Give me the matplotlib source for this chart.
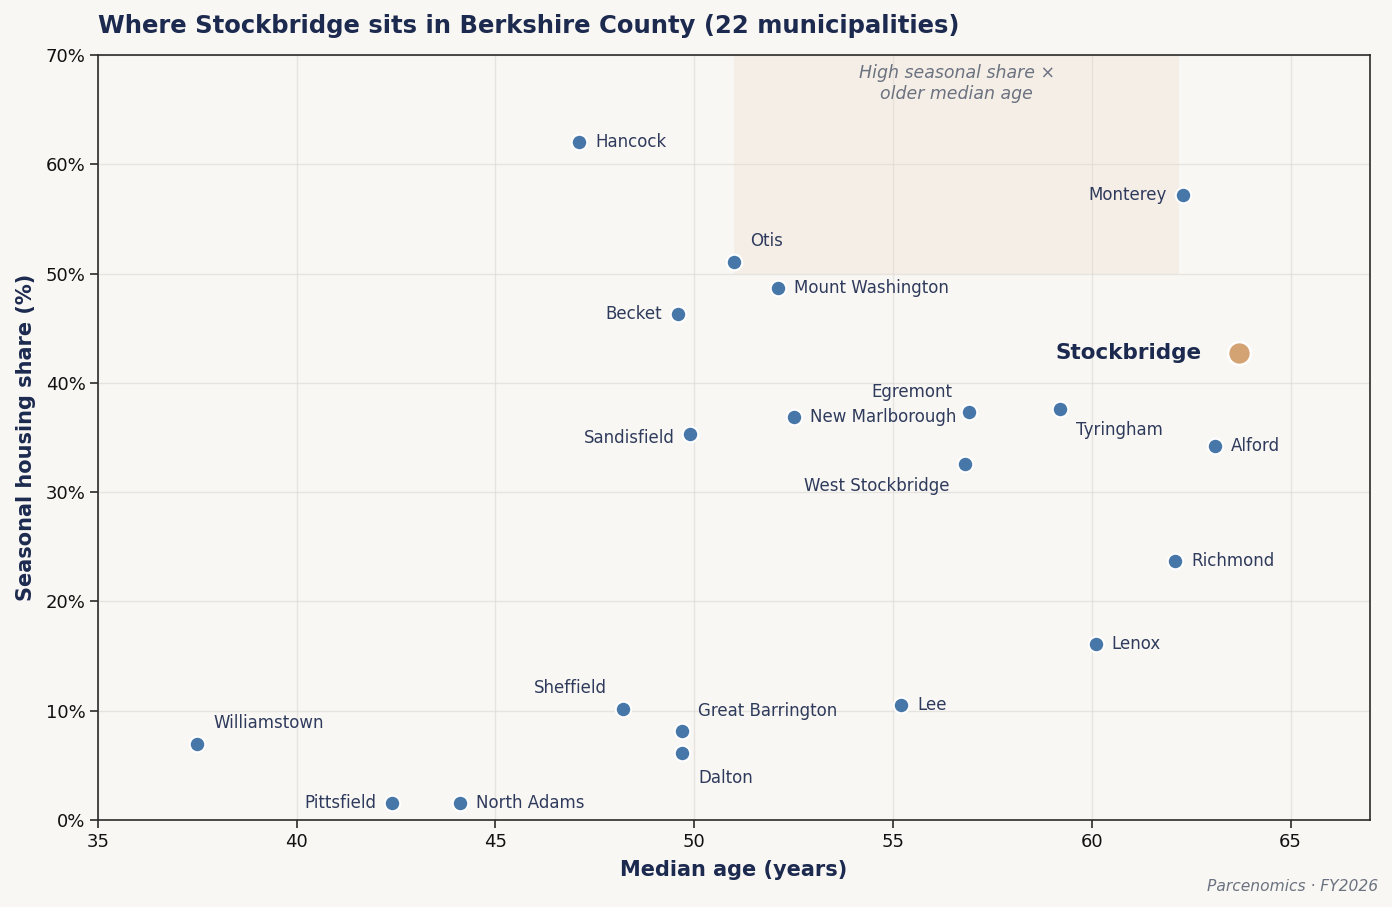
import matplotlib.pyplot as plt
from matplotlib.ticker import FuncFormatter

# municipalities (Stockbridge handled separately)
towns = ["Hancock", "Monterey", "Otis", "Mount Washington", "Becket", "Egremont",
         "Tyringham", "New Marlborough", "Sandisfield", "Alford", "West Stockbridge",
         "Richmond", "Lenox", "Lee", "Sheffield", "Great Barrington", "Dalton",
         "Williamstown", "Pittsfield", "North Adams"]
median_age = [47.1, 62.3, 51.0, 52.1, 49.6, 56.9,
              59.2, 52.5, 49.9, 63.1, 56.8,
              62.1, 60.1, 55.2, 48.2, 49.7, 49.7,
              37.5, 42.4, 44.1]
seasonal_pct = [62.0, 57.2, 51.1, 48.7, 46.3, 37.3,
                37.6, 36.9, 35.3, 34.2, 32.6,
                23.7, 16.1, 10.5, 10.2, 8.1, 6.1,
                7.0, 1.6, 1.6]

stock_age = 63.7
stock_pct = 42.7

# shaded "high seasonal x older" box
box_x = (51.0, 62.2)
box_y = (50.0, 70.0)

# label placement: (dx, dy in points, ha)
R = (11.5, 0, "left")
L = (-11.5, 0, "right")
label_pos = {
    "Hancock": R, "Monterey": L, "Otis": (11.5, 15, "left"),
    "Mount Washington": R, "Becket": L, "Egremont": (-11.5, 14.5, "right"),
    "Tyringham": (11.5, -15, "left"), "New Marlborough": R,
    "Sandisfield": (-11.5, -3, "right"), "Alford": R,
    "West Stockbridge": (-11, -16, "right"), "Richmond": R, "Lenox": R, "Lee": R,
    "Sheffield": (-11.5, 14.5, "right"), "Great Barrington": (11.5, 15, "left"),
    "Dalton": (11.5, -18, "left"), "Williamstown": (11.5, 15, "left"),
    "Pittsfield": L, "North Adams": R,
}

BG = "#f9f7f4"
NAVY = "#1c2a4f"
LABEL = "#2f3b5c"
BLUE = "#4677a8"
TAN = "#d4a373"

fig = plt.figure(figsize=(13.92, 9.07), dpi=100, facecolor=BG)
ax = fig.add_axes([0.0704, 0.0959, 0.9138, 0.8435])
ax.set_facecolor(BG)

ax.axvspan(box_x[0], box_x[1], ymin=box_y[0] / 70, ymax=box_y[1] / 70,
           color="#eee0d0", alpha=0.35, lw=0, zorder=0)
ax.text(sum(box_x) / 2, 69.2, "High seasonal share ×\nolder median age", ha="center", va="top",
        fontsize=12.5, style="italic", color="#6b7280", zorder=1)

ax.scatter(median_age, seasonal_pct, s=125, color=BLUE, edgecolor="white", linewidth=1.5, zorder=3)
ax.scatter([stock_age], [stock_pct], s=270, color=TAN, edgecolor="white", linewidth=1.8, zorder=4)

for name, xv, yv in zip(towns, median_age, seasonal_pct):
    dx, dy, ha = label_pos[name]
    ax.annotate(name, (xv, yv), xytext=(dx, dy), textcoords="offset points",
                ha=ha, va="center", fontsize=12, color=LABEL, zorder=5)

ax.annotate("Stockbridge", (stock_age, stock_pct), xytext=(-27, 0), textcoords="offset points",
            ha="right", va="center", fontsize=15.5, fontweight="bold", color=NAVY, zorder=5)

ax.set_xlim(35, 67)
ax.set_ylim(0, 70)
ax.set_xticks(range(35, 66, 5))
ax.set_yticks(range(0, 71, 10))
ax.yaxis.set_major_formatter(FuncFormatter(lambda v, p: f"{v:.0f}%"))
ax.tick_params(labelsize=13, colors="#111111", length=5.5, width=1.2)
ax.tick_params(axis="both", labelcolor="#111111", color="#2b2b2b")
ax.grid(True, color="#dcd8d2", alpha=0.6, lw=1)
ax.set_axisbelow(True)
for sp in ax.spines.values():
    sp.set_color("#2b2b2b")
    sp.set_linewidth(1.2)

ax.set_xlabel("Median age (years)", fontsize=15, fontweight="bold", color=NAVY, labelpad=7)
ax.set_ylabel("Seasonal housing share (%)", fontsize=15, fontweight="bold", color=NAVY, labelpad=7)
ax.set_title("Where Stockbridge sits in Berkshire County (22 municipalities)", loc="left",
             fontsize=17.5, fontweight="bold", color=NAVY, pad=16)

fig.text(0.99, 0.023, "Parcenomics · FY2026", ha="right", va="center", fontsize=11.2,
         style="italic", color="#6b7280")

fig.savefig("out.png", dpi=100, facecolor=BG)
